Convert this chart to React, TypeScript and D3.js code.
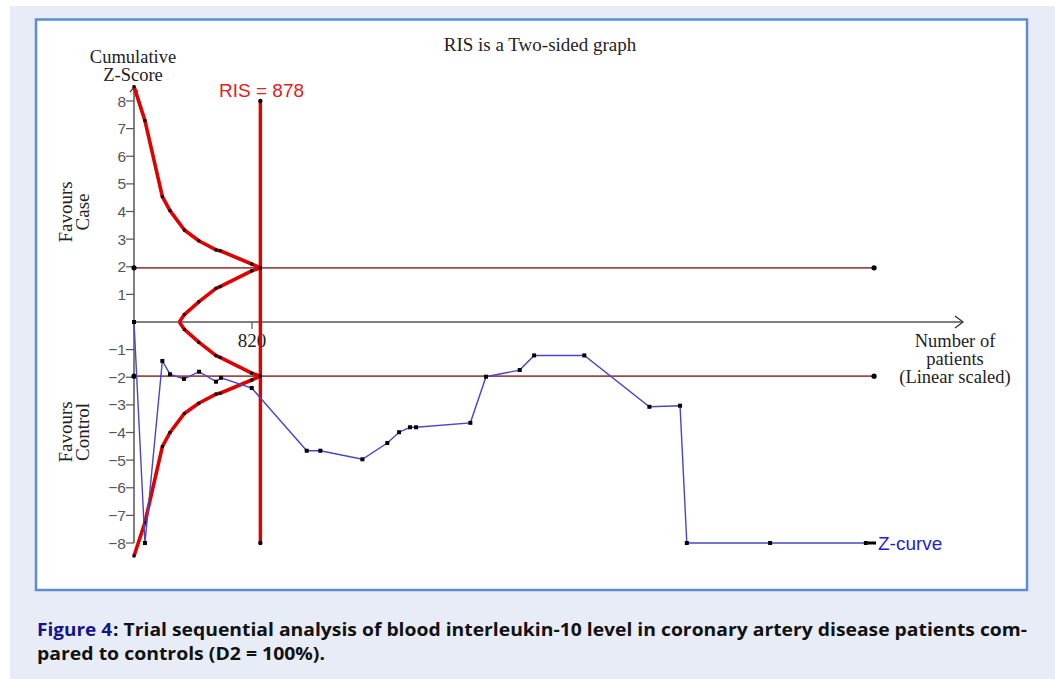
import { scaleLinear, line } from "d3";
import { useEffect } from "react";

const width = 1055;
const height = 679;

// interim analyses (cumulative patients) and alpha-spending boundaries
const boundaryN = [0, 76, 197, 250, 350, 450, 570, 598, 818, 878];
const upperAlpha = [8.52, 7.29, 4.54, 4.03, 3.33, 2.94, 2.61, 2.58, 2.1, 1.96];
const lowerAlpha = [-8.47, -7.26, -4.51, -4.0, -3.31, -2.94, -2.61, -2.58, -2.1, -1.96];

// futility (inner wedge)
const futilityN = [315, 350, 450, 570, 598, 818, 878];
const futilityUpper = [0, 0.27, 0.73, 1.22, 1.28, 1.85, 1.96];
const futilityLower = [0, -0.27, -0.73, -1.22, -1.28, -1.85, -1.96];

// cumulative Z-curve
const zN = [0, 76, 197, 250, 347, 452, 570, 605, 818, 1200, 1295, 1587, 1760, 1842, 1918, 1960, 2337, 2446, 2680, 2780, 3129, 3581, 3794, 3841, 4420, 5085];
const zVal = [0, -8, -1.41, -1.89, -2.06, -1.8, -2.16, -2.02, -2.39, -4.66, -4.66, -4.97, -4.38, -3.99, -3.81, -3.81, -3.65, -1.98, -1.74, -1.21, -1.21, -3.07, -3.03, -8, -8, -8];

const RIS = 878;
const conventional = 1.96;
const boundEndN = 5142;
const yTicks = [-8, -7, -6, -5, -4, -3, -2, -1, 1, 2, 3, 4, 5, 6, 7, 8];
const xTicks = [820];

const serif = "'Liberation Serif', 'Times New Roman', serif";
const sans = "'Liberation Sans', Arial, sans-serif";

export default function App() {
  useEffect(() => {
    document.body.style.margin = "0";
  }, []);

  const x = scaleLinear().domain([0, 5760]).range([134, 963]);
  const y = scaleLinear().domain([-8, 8]).range([543, 101]);

  const pts = (ns: number[], vs: number[]) => ns.map((n, i) => [n, vs[i]] as [number, number]);
  const path = line<[number, number]>()
    .x((d) => x(d[0]))
    .y((d) => y(d[1]));

  const upper = pts(boundaryN, upperAlpha);
  const lower = pts(boundaryN, lowerAlpha);
  const futU = pts(futilityN, futilityUpper);
  const futL = pts(futilityN, futilityLower);
  const zcurve = pts(zN, zVal);

  const markers = (data: [number, number][], size: number, skipFirst = false) =>
    data.slice(skipFirst ? 1 : 0).map((d, i) => (
      <rect key={i} x={x(d[0]) - size / 2} y={y(d[1]) - size / 2} width={size} height={size} fill="#000" />
    ));

  const x0 = x(0);
  const y0 = y(0);
  const xEnd = x.range()[1];

  return (
    <svg width={width} height={height} style={{ display: "block" }}>
      <rect width={width} height={height} fill="#fff" />
      <rect x={10} y={6} width={width - 10} height={height - 6} fill="#e8ecf7" />
      <rect x={36} y={19.5} width={991} height={570.5} fill="#fff" stroke="#5b8dd0" strokeWidth={2.5} />

      <text x={540} y={51} textAnchor="middle" fontFamily={serif} fontSize={19} fill="#222">
        RIS is a Two-sided graph
      </text>

      {/* y axis */}
      <line x1={x0} x2={x0} y1={y(-8)} y2={y(8.5)} stroke="#555" strokeWidth={1.5} />
      <path d={`M${x0 - 4},${y(8.5) + 5} L${x0},${y(8.5)} L${x0 + 4},${y(8.5) + 5}`} fill="none" stroke="#333" strokeWidth={1.3} />
      {yTicks.map((t) => (
        <g key={t}>
          <line x1={x0 - 8} x2={x0} y1={y(t)} y2={y(t)} stroke="#555" strokeWidth={1.2} />
          <text x={x0 - 8} y={y(t)} dy="0.36em" textAnchor="end" fontFamily={sans} fontSize={15.5} fill="#555">
            {t < 0 ? `\u2212${-t}` : t}
          </text>
        </g>
      ))}
      <text x={133} textAnchor="middle" fontFamily={serif} fontSize={18.5} fill="#222">
        <tspan x={133} y={63}>Cumulative</tspan>
        <tspan x={133} y={81}>Z-Score</tspan>
      </text>
      <text transform="translate(71.5,212) rotate(-90)" textAnchor="middle" fontFamily={serif} fontSize={19} fill="#222">
        <tspan x={0} y={0}>Favours</tspan>
        <tspan x={0} y={17}>Case</tspan>
      </text>
      <text transform="translate(71.5,432) rotate(-90)" textAnchor="middle" fontFamily={serif} fontSize={19} fill="#222">
        <tspan x={0} y={0}>Favours</tspan>
        <tspan x={0} y={17}>Control</tspan>
      </text>

      {/* x axis */}
      <line x1={x0} x2={xEnd} y1={y0} y2={y0} stroke="#555" strokeWidth={1.5} />
      <path d={`M${xEnd - 8},${y0 - 6} L${xEnd},${y0} L${xEnd - 8},${y0 + 6}`} fill="none" stroke="#333" strokeWidth={1.3} />
      {xTicks.map((t) => (
        <g key={t}>
          <line x1={x(t)} x2={x(t)} y1={y0} y2={y0 + 7} stroke="#555" strokeWidth={1.2} />
          <text x={x(t)} y={347} textAnchor="middle" fontFamily={serif} fontSize={19} fill="#222">
            {t}
          </text>
        </g>
      ))}
      <text textAnchor="middle" fontFamily={serif} fontSize={18.5} fill="#222">
        <tspan x={955} y={347}>Number of</tspan>
        <tspan x={955} y={365}>patients</tspan>
        <tspan x={955} y={383}>(Linear scaled)</tspan>
      </text>

      {/* conventional boundaries */}
      {[conventional, -conventional].map((v) => (
        <g key={v}>
          <line x1={x0} x2={x(boundEndN)} y1={y(v)} y2={y(v)} stroke="#a04848" strokeWidth={1.6} />
          <circle cx={x0} cy={y(v)} r={2.6} fill="#000" />
          <circle cx={x(boundEndN)} cy={y(v)} r={2.6} fill="#000" />
        </g>
      ))}

      {/* RIS */}
      <line x1={x(RIS)} x2={x(RIS)} y1={y(8)} y2={y(-8)} stroke="#e00000" strokeWidth={3.4} />
      <circle cx={x(RIS)} cy={y(8)} r={2.2} fill="#000" />
      <circle cx={x(RIS)} cy={y(-8)} r={2.2} fill="#000" />
      <text x={219} y={97} fontFamily={sans} fontSize={19} fill="#e02020">
        RIS = {RIS}
      </text>

      {/* monitoring boundaries */}
      {[upper, lower, futU, futL].map((d, i) => (
        <path key={i} d={path(d) || ""} fill="none" stroke="#e00000" strokeWidth={3.6} strokeLinejoin="round" />
      ))}
      {markers(upper, 3)}
      {markers(lower, 3)}
      {markers(futU, 3, true)}
      {markers(futL, 3, true)}

      {/* Z-curve */}
      <path d={path(zcurve) || ""} fill="none" stroke="#4646c8" strokeWidth={1.4} />
      {markers(zcurve, 4)}
      <rect x={868} y={y(-8) - 1.5} width={8} height={3} fill="#000" />
      <text x={878} y={y(-8)} dy="0.35em" fontFamily={sans} fontSize={19} fill="#2222c8">
        Z-curve
      </text>

      {/* caption */}
      <text x={37} y={636} fontFamily="'Open Sans', sans-serif" fontWeight="bold" fontSize={18.5} fill="#14148c" textLength={75} lengthAdjust="spacingAndGlyphs">
        Figure 4
      </text>
      <text x={113} y={636} fontFamily="'Open Sans', sans-serif" fontWeight="bold" fontSize={18.5} fill="#111" textLength={914} lengthAdjust="spacingAndGlyphs">
        : Trial sequential analysis of blood interleukin-10 level in coronary artery disease patients com-
      </text>
      <text x={37} y={660} fontFamily="'Open Sans', sans-serif" fontWeight="bold" fontSize={18.5} fill="#111" textLength={288} lengthAdjust="spacingAndGlyphs">
        pared to controls (D2 = 100%).
      </text>
    </svg>
  );
}
